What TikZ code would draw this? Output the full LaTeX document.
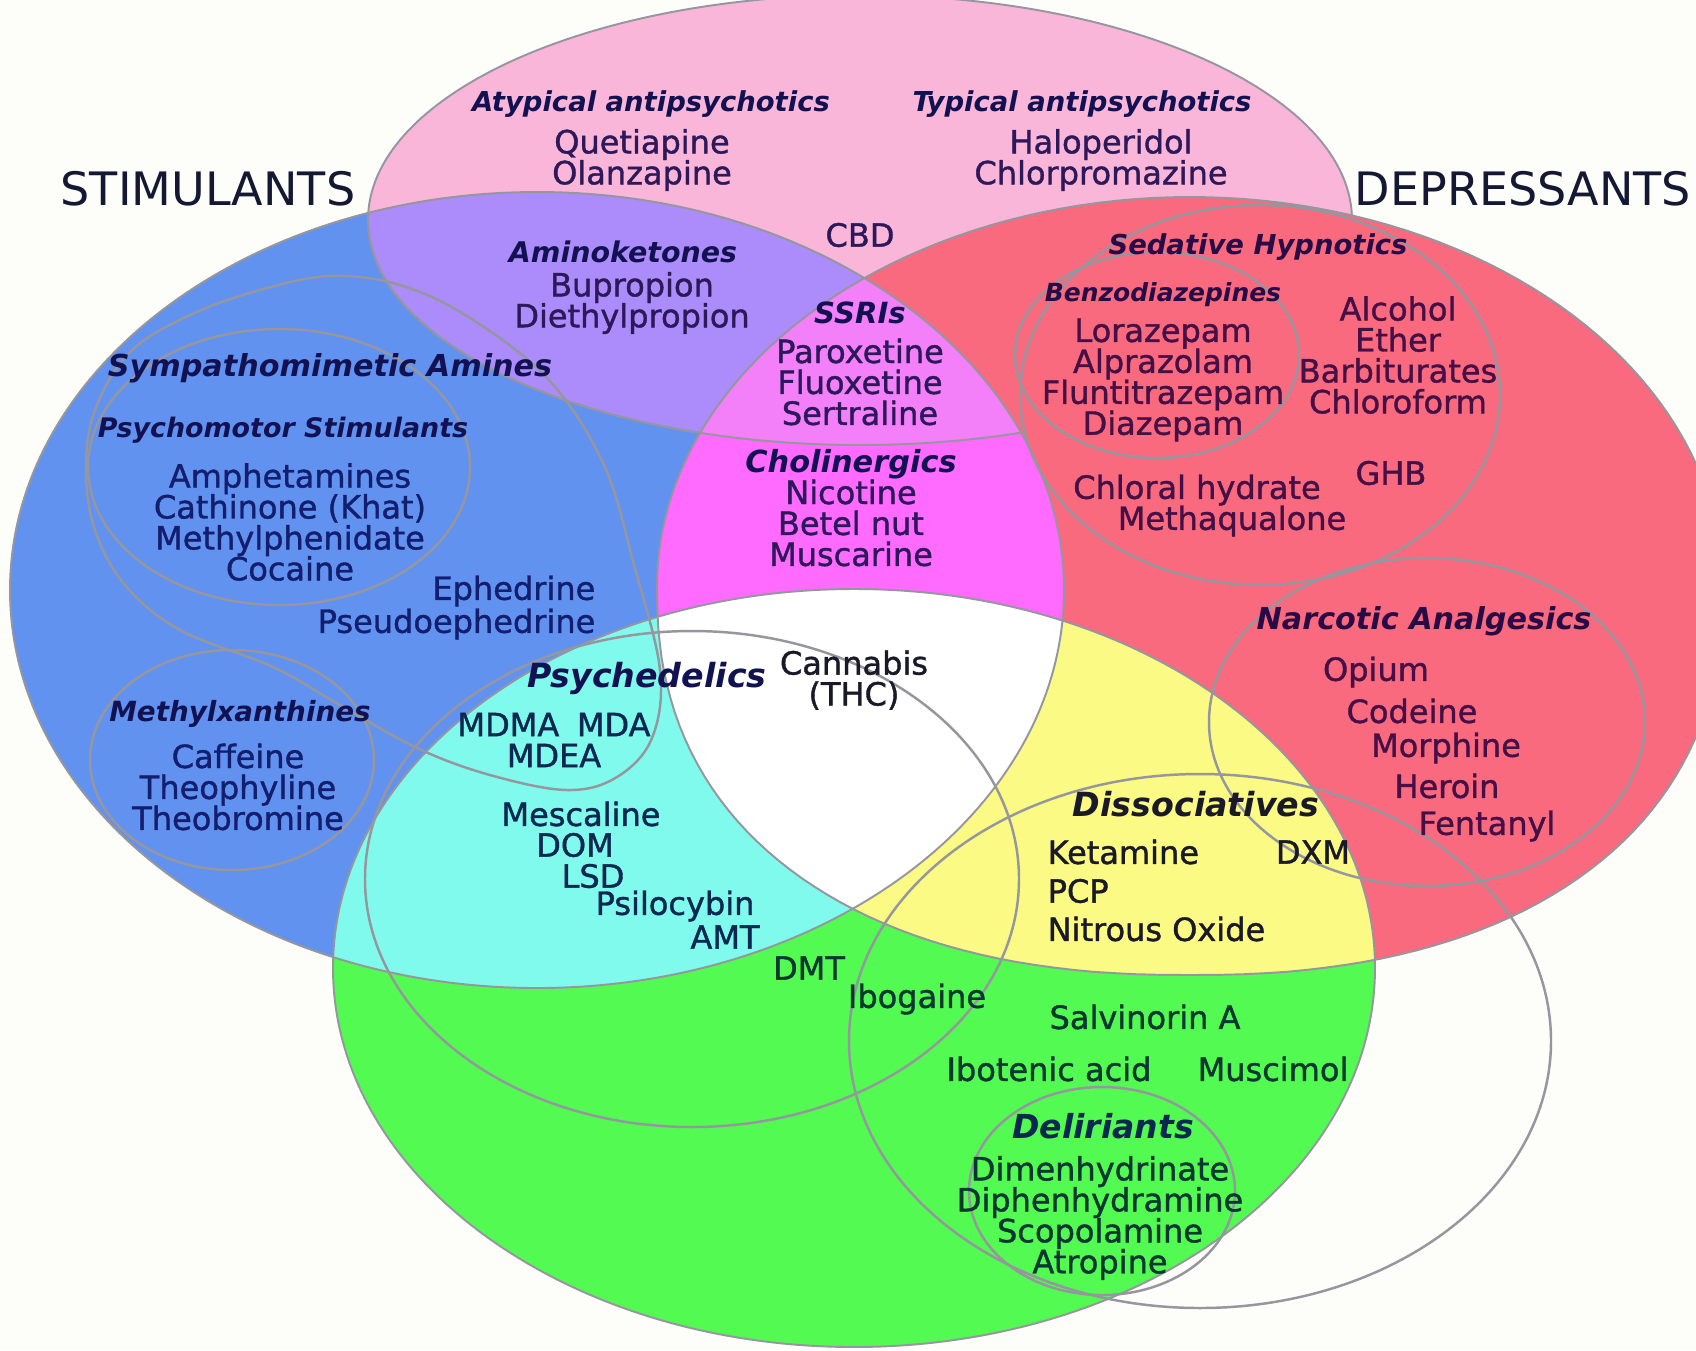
\documentclass[tikz,border=0pt]{standalone}
\usepackage{fontspec}
\setmainfont{DejaVu Sans}
\newfontfamily\drugfont{DejaVu Sans}[FakeBold=1.2]
\usepackage{xcolor}
\definecolor{paper}{RGB}{253,253,250}
\definecolor{pinkfill}{RGB}{249,182,216}
\definecolor{bluefill}{RGB}{98,146,240}
\definecolor{redfill}{RGB}{249,106,126}
\definecolor{greenfill}{RGB}{82,250,82}
\definecolor{violetfill}{RGB}{172,140,250}
\definecolor{magentafill}{RGB}{255,106,255}
\definecolor{ssrifill}{RGB}{243,128,248}
\definecolor{cyanfill}{RGB}{128,250,236}
\definecolor{yellowfill}{RGB}{250,250,132}
\definecolor{rimgray}{RGB}{150,150,158}
\definecolor{pageink}{RGB}{20,24,50}
\definecolor{navyink}{RGB}{18,18,82}
\definecolor{blueink}{RGB}{20,30,110}
\definecolor{pinkink}{RGB}{45,25,90}
\definecolor{plumink}{RGB}{70,16,70}
\definecolor{plumhead}{RGB}{40,10,70}
\definecolor{cyanink}{RGB}{12,40,80}
\definecolor{tealink}{RGB}{8,55,50}
\definecolor{blackink}{RGB}{25,25,40}

% the four classes
\newcommand{\pinkzone}{(860,220) ellipse [x radius=492, y radius=225]}
\newcommand{\bluezone}{(537,590) ellipse [x radius=527, y radius=398]}
\newcommand{\greenzone}{(854,968) ellipse [x radius=521, y radius=379]}
% depressants: ellipse on top, squarer below
\newcommand{\redzone}{plot[domain=0:360, samples=181, variable=\t]
    ({1190+533*sign(cos(\t))*pow(max(abs(cos(\t)),0.0001),(\t<180?0.87:1))},
     {586+389*sign(sin(\t))*pow(max(abs(sin(\t)),0.0001),(\t<180?0.87:1))}) -- cycle}
\newcommand{\druglines}{\drugfont\fontsize{9.1}{8.8}\selectfont\lineskiplimit -10pt\relax}

\begin{document}
\begin{tikzpicture}[x=0.01cm, y=-0.01cm,
    drug/.style={font=\druglines, align=center, inner sep=0pt},
    groupname/.style={font=\fontsize{#1}{#1}\selectfont\bfseries\itshape, text=navyink, inner sep=0pt},
    bigword/.style={font=\fontsize{13.1}{14}\selectfont, text=pageink, inner sep=0pt},
    rim/.style={draw=rimgray, line width=0.55pt},
    subset/.style={draw=rimgray, line width=0.7pt}]
    \useasboundingbox (0,0) rectangle (1696,1350);
    \fill[paper] (0,0) rectangle (1696,1350);

    % base colours
    \fill[pinkfill] \pinkzone;
    \fill[bluefill] \bluezone;
    \fill[greenfill] \greenzone;
    \fill[redfill] \redzone;
    % overlaps
    \begin{scope}
        \clip \bluezone;
        \fill[violetfill] \pinkzone;
        \fill[magentafill] \redzone;
        \fill[cyanfill] \greenzone;
    \end{scope}
    \begin{scope}
        \clip \redzone;
        \fill[yellowfill] \greenzone;
    \end{scope}
    \begin{scope}
        \clip \bluezone;
        \clip \redzone;
        \fill[ssrifill] \pinkzone;
        \fill[white] \greenzone;
    \end{scope}

    % outlines
    \draw[rim] \bluezone;
    \draw[rim] \greenzone;
    \draw[rim] \redzone;
    \begin{scope}[even odd rule]
        \clip (-50,-50) rectangle (1750,1400) \redzone;
        \draw[rim] \pinkzone;
    \end{scope}
    \begin{scope}
        \clip \bluezone;
        \draw[rim] \pinkzone;
    \end{scope}

    % sub-groups
    \draw[subset] plot[smooth cycle, tension=0.6] coordinates {(400,285) (330,276) (260,290) (190,315) (130,352) (95,410) (86,470) (95,530) (125,585) (180,630) (273,667) (340,705) (417,748) (490,775) (567,790) (617,777) (652,738) (660,670) (634,565) (604,465) (549,380) (470,318)};
    \draw[subset] (279,467) ellipse [x radius=191, y radius=138];
    \draw[subset] (232,760) ellipse [x radius=142, y radius=110];
    \draw[subset] (692,879) ellipse [x radius=327, y radius=248];
    \draw[subset] (1260,395) ellipse [x radius=240, y radius=190];
    \draw[subset] (1157,355) ellipse [x radius=142, y radius=103];
    \draw[subset] (1427,722) ellipse [x radius=218, y radius=164];
    \draw[subset] (1200,1041) ellipse [x radius=351, y radius=267];
    \draw[subset] (1102,1191) ellipse [x radius=133, y radius=104];

    % outside labels
    \node[bigword] (stimulants) at (208,189) {STIMULANTS};
    \node[bigword] (depressants) at (1523,189) {DEPRESSANTS};

    % antipsychotics
    \node[groupname=7.8] (atypical) at (651,104) {Atypical antipsychotics};
    \node[drug, text=pinkink] (atypical-list) at (642,160) {Quetiapine\\Olanzapine};
    \node[groupname=7.8] (typical) at (1082,104) {Typical antipsychotics};
    \node[drug, text=pinkink] (typical-list) at (1101,160) {Haloperidol\\Chlorpromazine};
    \node[drug, text=pinkink] (cbd) at (860,235) {CBD};
    \node[groupname=8.1] (aminoketones) at (623,252) {Aminoketones};
    \node[drug, text=pinkink] (aminoketones-list) at (632,303) {Bupropion\\Diethylpropion};
    \node[groupname=8.3] (ssri) at (860,313) {SSRIs};
    \node[drug, text=pinkink] (ssri-list) at (860,382) {Paroxetine\\Fluoxetine\\Sertraline};

    % stimulants
    \node[groupname=8.6] (sympatho) at (330,368) {Sympathomimetic Amines};
    \node[groupname=7.65] (psychomotor) at (283,430) {Psychomotor Stimulants};
    \node[drug, text=blueink] (psychomotor-list) at (290,522) {Amphetamines\\Cathinone (Khat)\\Methylphenidate\\Cocaine};
    \node[drug, text=blueink, anchor=east] (ephedrine) at (596,591) {Ephedrine};
    \node[drug, text=blueink, anchor=east] (pseudoephedrine) at (596,624) {Pseudoephedrine};
    \node[groupname=7.9] (methylx) at (240,714) {Methylxanthines};
    \node[drug, text=blueink] (methylx-list) at (238,787) {Caffeine\\Theophyline\\Theobromine};
    \node[groupname=8.65] (cholinergics) at (851,464) {Cholinergics};
    \node[drug, text=pinkink] (cholinergics-list) at (851,523) {Nicotine\\Betel nut\\Muscarine};

    % depressants
    \node[groupname=7.8, text=plumhead] (sedative) at (1258,247) {Sedative Hypnotics};
    \node[groupname=7.1, text=plumhead] (benzo) at (1163,295) {Benzodiazepines};
    \node[drug, text=plumink] (benzo-list) at (1163,380) {Lorazepam\\Alprazolam\\Fluntitrazepam\\Diazepam};
    \node[drug, text=plumink] (sedative-list) at (1398,355) {Alcohol\\Ether\\Barbiturates\\Chloroform};
    \node[drug, text=plumink] (ghb) at (1391,473) {GHB};
    \node[drug, text=plumink] (chloral) at (1197,490) {Chloral hydrate};
    \node[drug, text=plumink] (methaqualone) at (1232,521) {Methaqualone};
    \node[groupname=8.6, text=plumhead] (narcotic) at (1424,621) {Narcotic Analgesics};
    \foreach \drug/\x/\y in {Opium/1376/672, Codeine/1412/711, Morphine/1446/748, Heroin/1447/786, Fentanyl/1487/826} {
        \node[drug, text=plumink] (narcotic-\drug) at (\x,\y) {\drug};
    }

    % hallucinogens
    \node[groupname=9.45] (psychedelics) at (647,678) {Psychedelics};
    \node[drug, text=blackink] (cannabis) at (854,680) {Cannabis\\(THC)};
    \node[drug, text=cyanink] (mdma) at (554,740) {MDMA\hspace{0.55em}MDA\\MDEA};
    \foreach \drug/\x/\y in {Mescaline/581/814, DOM/575/845, LSD/593/876, Psilocybin/675/906, AMT/725/937} {
        \node[drug, text=cyanink] (psychedelic-\drug) at (\x,\y) {\drug};
    }
    \node[drug, text=tealink] (dmt) at (809,968) {DMT};
    \node[drug, text=tealink] (ibogaine) at (917,999) {Ibogaine};
    \node[groupname=9.45, text=blackink] (dissociatives) at (1196,804) {Dissociatives};
    \node[drug, text=blackink, anchor=west] (ketamine) at (1047,852) {Ketamine};
    \node[drug, text=blackink] (dxm) at (1313,852) {DXM};
    \node[drug, text=blackink, anchor=west] (pcp) at (1047,891) {PCP};
    \node[drug, text=blackink, anchor=west] (nitrous) at (1047,929) {Nitrous Oxide};
    \node[drug, text=tealink] (salvinorin) at (1145,1017) {Salvinorin A};
    \node[drug, text=tealink] (ibotenic) at (1049,1069) {Ibotenic acid};
    \node[drug, text=tealink] (muscimol) at (1273,1069) {Muscimol};
    \node[groupname=9.4, text=cyanink] (deliriants) at (1103,1126) {Deliriants};
    \node[drug, text=tealink] (deliriants-list) at (1100,1218) {Dimenhydrinate\\Diphenhydramine\\Scopolamine\\Atropine};
\end{tikzpicture}
\end{document}
